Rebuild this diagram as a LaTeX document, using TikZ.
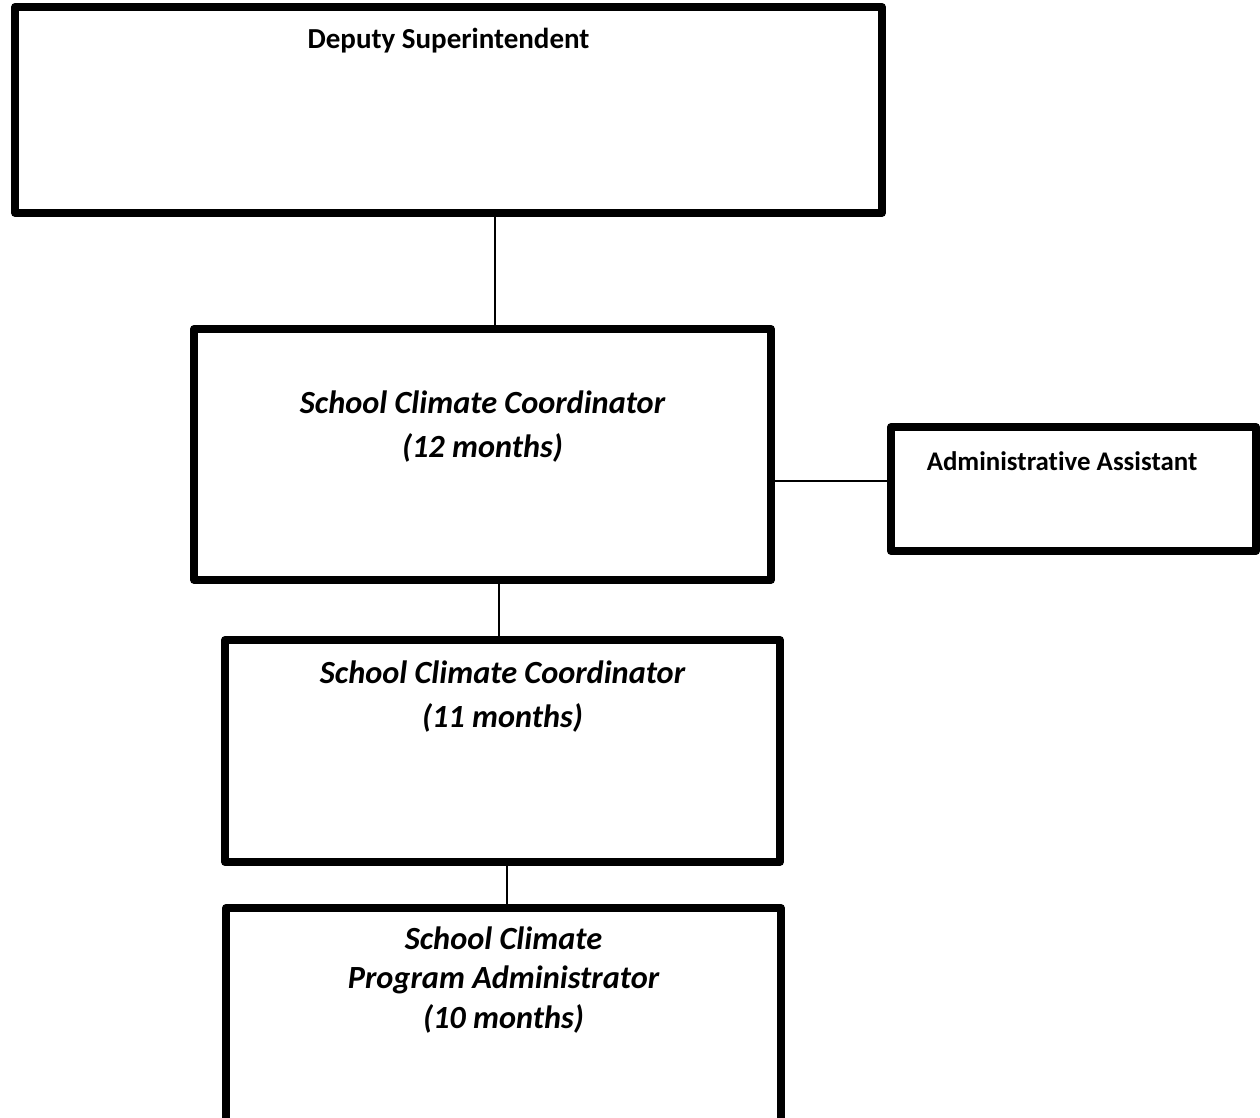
\documentclass[tikz,border=0pt]{standalone}
\usepackage{fontspec}
\setmainfont{Carlito}[Ligatures=NoCommon]
\usetikzlibrary{positioning}

\tikzset{
  post/.style={draw, line width=4.5pt, line join=round, inner sep=0pt},
  title/.style={font=\bfseries\fontsize{16.5}{19}\selectfont, align=center},
  role/.style={font=\bfseries\itshape\fontsize{18.4}{25}\selectfont, align=center},
  link/.style={line width=1.1pt},
}

\begin{document}
\begin{tikzpicture}[x=0.02cm, y=-0.02cm]
    \useasboundingbox (0,0) rectangle (1260,1118);
    \clip (0,0) rectangle (1260,1118);

    % boxes
    \node[post, minimum width=17.34cm, minimum height=4.12cm] (deputy) at (448.5,110) {};
    \node[post, minimum width=11.54cm, minimum height=5.02cm] (coordA) at (482.5,454.5) {};
    \node[post, minimum width=7.3cm, minimum height=2.48cm] (assist) at (1073.5,489) {};
    \node[post, minimum width=11.1cm, minimum height=4.44cm] (coordB) at (502.5,751) {};
    \node[post, minimum width=11.1cm, minimum height=5.04cm] (progadm) at (503.5,1034) {};

    % labels
    \node[title] (deputyT) at (448.5,41) {Deputy Superintendent};
    \node[role] (coordAT) at (482.5,427) {School Climate Coordinator\\(12 months)};
    \node[title, font=\bfseries\fontsize{15.3}{18}\selectfont] (assistT) at (1062,461) {Administrative Assistant};
    \node[role] (coordBT) at (502.5,696.5) {School Climate Coordinator\\(11 months)};
    \node[role, font=\bfseries\itshape\fontsize{18.4}{22.5}\selectfont] (progadmT) at (503.5,980)
        {School Climate\\Program Administrator\\(10 months)};

    % connectors
    \coordinate (k1) at (495,0);
    \coordinate (k2) at (499,0);
    \coordinate (k3) at (507,0);
    \coordinate (k4) at (830,481);
    \draw[link] (deputy.south -| k1) -- (coordA.north -| k1);
    \draw[link] (coordA.south -| k2) -- (coordB.north -| k2);
    \draw[link] (coordB.south -| k3) -- (progadm.north -| k3);
    \draw[link] (coordA.east |- k4) -- (assist.west |- k4);
\end{tikzpicture}
\end{document}
